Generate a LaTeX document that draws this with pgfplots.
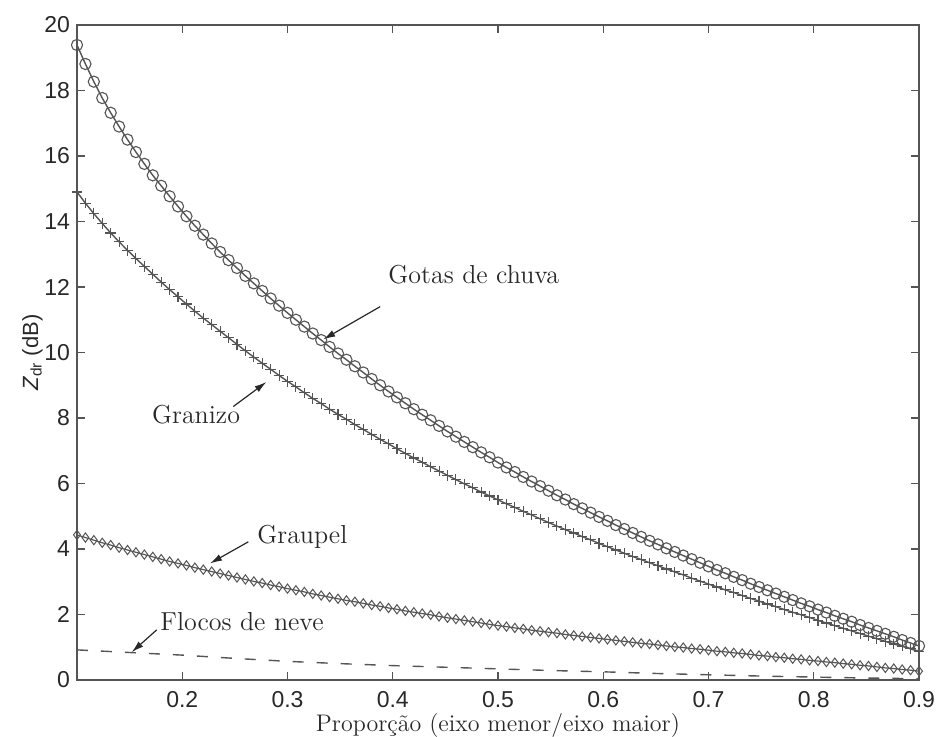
\documentclass[border=0pt]{standalone}
\usepackage{fontspec}
\usepackage{pgfplots}
\usepackage{pgfplotstable}
\pgfplotsset{compat=1.18}
\usetikzlibrary{arrows.meta}
\newfontfamily\ticksf{Liberation Sans}
\definecolor{ln}{RGB}{85,85,85}
\definecolor{tx}{RGB}{40,40,40}

\pgfplotstableread{
x rain hail graupel
0.100 19.39 14.90 4.43
0.108 18.81 14.56 4.35
0.116 18.27 14.24 4.27
0.124 17.77 13.94 4.19
0.132 17.32 13.65 4.12
0.140 16.90 13.38 4.04
0.148 16.50 13.12 3.97
0.156 16.12 12.87 3.90
0.164 15.76 12.63 3.83
0.172 15.41 12.39 3.76
0.180 15.09 12.15 3.69
0.188 14.77 11.92 3.62
0.196 14.46 11.70 3.56
0.204 14.16 11.48 3.50
0.212 13.87 11.26 3.43
0.220 13.60 11.05 3.37
0.228 13.33 10.85 3.31
0.236 13.07 10.65 3.25
0.244 12.82 10.45 3.19
0.252 12.58 10.25 3.13
0.260 12.34 10.05 3.07
0.268 12.11 9.86 3.01
0.276 11.88 9.67 2.96
0.284 11.65 9.49 2.90
0.292 11.43 9.30 2.85
0.300 11.21 9.12 2.79
0.308 11.00 8.95 2.74
0.316 10.79 8.77 2.69
0.324 10.58 8.60 2.63
0.332 10.38 8.44 2.58
0.340 10.17 8.27 2.53
0.348 9.97 8.11 2.48
0.356 9.78 7.96 2.43
0.364 9.58 7.80 2.39
0.372 9.39 7.65 2.34
0.380 9.19 7.50 2.29
0.388 9.00 7.35 2.25
0.396 8.81 7.21 2.20
0.404 8.63 7.06 2.16
0.412 8.45 6.92 2.11
0.420 8.27 6.78 2.07
0.428 8.10 6.65 2.03
0.436 7.93 6.51 1.99
0.444 7.76 6.38 1.94
0.452 7.59 6.25 1.90
0.460 7.43 6.12 1.86
0.468 7.27 5.99 1.82
0.476 7.11 5.87 1.78
0.484 6.95 5.74 1.74
0.492 6.80 5.62 1.70
0.500 6.64 5.50 1.66
0.508 6.49 5.38 1.63
0.516 6.35 5.27 1.59
0.524 6.20 5.15 1.56
0.532 6.06 5.04 1.52
0.540 5.92 4.92 1.49
0.548 5.78 4.81 1.46
0.556 5.64 4.70 1.43
0.564 5.51 4.59 1.39
0.572 5.37 4.49 1.36
0.580 5.24 4.38 1.33
0.588 5.11 4.28 1.30
0.596 4.98 4.17 1.27
0.604 4.86 4.07 1.24
0.612 4.73 3.97 1.21
0.620 4.61 3.87 1.18
0.628 4.49 3.77 1.15
0.636 4.37 3.68 1.12
0.644 4.25 3.58 1.10
0.652 4.14 3.49 1.07
0.660 4.02 3.39 1.04
0.668 3.91 3.30 1.01
0.676 3.80 3.21 0.99
0.684 3.69 3.11 0.96
0.692 3.58 3.02 0.94
0.700 3.47 2.93 0.91
0.708 3.36 2.84 0.88
0.716 3.26 2.75 0.86
0.724 3.15 2.67 0.83
0.732 3.05 2.58 0.81
0.740 2.94 2.49 0.78
0.748 2.84 2.41 0.75
0.756 2.74 2.32 0.73
0.764 2.64 2.24 0.70
0.772 2.54 2.15 0.68
0.780 2.44 2.07 0.65
0.788 2.34 1.99 0.63
0.796 2.25 1.91 0.60
0.804 2.15 1.82 0.58
0.812 2.06 1.74 0.55
0.820 1.96 1.66 0.53
0.828 1.87 1.58 0.50
0.836 1.78 1.50 0.48
0.844 1.68 1.42 0.45
0.852 1.59 1.34 0.43
0.860 1.50 1.26 0.40
0.868 1.41 1.18 0.37
0.876 1.32 1.10 0.35
0.884 1.22 1.03 0.32
0.892 1.13 0.95 0.30
0.900 1.04 0.87 0.27
}\zdr

\pgfplotstableread{
x snow
0.10 0.92
0.15 0.84
0.20 0.76
0.25 0.66
0.30 0.57
0.35 0.50
0.40 0.44
0.45 0.39
0.50 0.34
0.55 0.29
0.60 0.25
0.65 0.20
0.70 0.16
0.75 0.12
0.80 0.09
0.85 0.06
0.90 0.04
}\snow

\begin{document}
\begin{tikzpicture}
\useasboundingbox (-38.5pt,-28pt) rectangle (430pt,340pt);
\begin{axis}[
  name=ax,
  anchor=south west, at={(0pt,0pt)},
  width=421pt, height=327.5pt, scale only axis,
  xmin=0.1, xmax=0.9, ymin=0, ymax=20,
  xtick={0.2,0.3,0.4,0.5,0.6,0.7,0.8,0.9},
  ytick={0,2,4,6,8,10,12,14,16,18,20},
  xticklabels={0.2,0.3,0.4,0.5,0.6,0.7,0.8,0.9},
  tick align=inside, tick pos=both,
  major tick length=4pt,
  axis line style={ln, line width=0.7pt},
  every tick/.style={ln, line width=0.6pt},
  ticklabel style={font=\ticksf\fontsize{11.5}{13}\selectfont, text=tx},
  xticklabel style={yshift=-2pt},
  /pgf/number format/assume math mode=true,
  xlabel={Proporção (eixo menor/eixo maior)},
  xlabel style={font=\fontsize{12}{14}\selectfont, text=tx, yshift=4pt},
  ylabel={{\itshape Z}\textsubscript{dr} (dB)},
  ylabel style={font=\ticksf\fontsize{11}{13}\selectfont, text=tx, yshift=-6pt},
  clip=false,
]
\addplot[ln, line width=0.7pt, mark=o, mark size=2.8pt, mark options={solid, line width=0.55pt}] table[x=x, y=rain] {\zdr};
\addplot[ln, line width=0.7pt, mark=+, mark size=2.6pt, mark options={solid, line width=0.55pt}] table[x=x, y=hail] {\zdr};
\addplot[ln, line width=0.6pt, mark=diamond, mark size=2.3pt, mark options={solid, line width=0.5pt}] table[x=x, y=graupel] {\zdr};
\addplot[ln, line width=0.7pt, dash pattern=on 5.5pt off 6.5pt] table[x=x, y=snow] {\snow};

\draw[tx, line width=0.6pt, -{Latex[length=6pt,width=3.5pt]}] (axis cs:0.388,11.40) -- (axis cs:0.334,10.40);
\node[anchor=west, font=\fontsize{13}{15}\selectfont, text=tx, inner sep=0pt] at (axis cs:0.3955,12.37) {Gotas de chuva};
\draw[tx, line width=0.6pt, -{Latex[length=6pt,width=3.5pt]}] (axis cs:0.2485,8.35) -- (axis cs:0.280,9.10);
\node[anchor=west, font=\fontsize{13}{15}\selectfont, text=tx, inner sep=0pt] at (axis cs:0.171,8.10) {Granizo};
\draw[tx, line width=0.6pt, -{Latex[length=6pt,width=3.5pt]}] (axis cs:0.2628,4.22) -- (axis cs:0.2264,3.56);
\node[anchor=west, font=\fontsize{13}{15}\selectfont, text=tx, inner sep=0pt] at (axis cs:0.271,4.38) {Graupel};
\draw[tx, line width=0.6pt, -{Latex[length=6pt,width=3.5pt]}] (axis cs:0.1757,1.53) -- (axis cs:0.152,0.85);
\node[anchor=west, font=\fontsize{13}{15}\selectfont, text=tx, inner sep=0pt] at (axis cs:0.1789,1.78) {Flocos de neve};
\end{axis}
\end{tikzpicture}
\end{document}
